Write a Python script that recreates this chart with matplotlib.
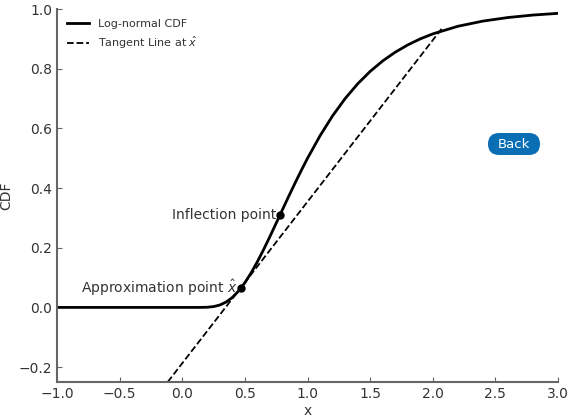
import matplotlib.pyplot as plt
from matplotlib.patches import FancyBboxPatch

plt.rcParams["font.family"] = "DejaVu Sans"

# Log-normal CDF
cdf_x = [-1.0, 0.0, 0.1, 0.15, 0.2, 0.25, 0.3, 0.35, 0.4, 0.45, 0.5, 0.55, 0.6, 0.65,
         0.7, 0.75, 0.8, 0.85, 0.9, 0.95, 1.0, 1.1, 1.2, 1.3, 1.4, 1.5, 1.6, 1.7,
         1.8, 1.9, 2.0, 2.2, 2.4, 2.6, 2.8, 3.0]
cdf_y = [0.0, 0.0, 0.0, 0.0001, 0.0006, 0.0028, 0.008, 0.0179, 0.0334, 0.0551, 0.0829,
         0.1159, 0.1535, 0.1944, 0.2378, 0.2826, 0.3278, 0.3726, 0.4165, 0.4591, 0.5,
         0.5756, 0.6423, 0.7001, 0.7495, 0.7913, 0.8264, 0.8557, 0.8801, 0.9004,
         0.9171, 0.9426, 0.960, 0.972, 0.9803, 0.986]

# Tangent line endpoints
tangent_x = [-0.116, 2.07]
tangent_y = [-0.25, 0.934]

# Marked points
approx_pt = (0.47, 0.0655)
inflect_pt = (0.78, 0.31)

text_col = "#333333"
spine_col = "#666666"

fig = plt.figure(figsize=(5.7, 4.17), dpi=100)
ax = fig.add_axes([0.1, 0.084, 0.879, 0.894])

ax.plot(cdf_x, cdf_y, color="black", lw=2, label="Log-normal CDF")
ax.plot(tangent_x, tangent_y, color="black", lw=1.3, ls="--", label=r"Tangent Line at $\hat{x}$")
ax.plot(*approx_pt, "o", color="black", ms=5)
ax.plot(*inflect_pt, "o", color="black", ms=5)

ax.text(approx_pt[0] - 0.03, approx_pt[1], r"Approximation point $\hat{x}$",
        ha="right", va="center", fontsize=10, color=text_col)
ax.text(inflect_pt[0] - 0.03, inflect_pt[1], "Inflection point",
        ha="right", va="center", fontsize=10, color=text_col)

ax.set_xlim(-1, 3)
ax.set_ylim(-0.25, 1.0)
ax.set_xlabel("x", color=text_col, labelpad=2)
ax.set_ylabel("CDF", color=text_col)

for side in ["top", "right"]:
    ax.spines[side].set_visible(False)
for side in ["left", "bottom"]:
    ax.spines[side].set_color(spine_col)
    ax.spines[side].set_linewidth(1.5)
ax.tick_params(direction="in", colors=spine_col, labelcolor=text_col, labelsize=10)

leg = ax.legend(loc="upper left", frameon=False, fontsize=8)
for t in leg.get_texts():
    t.set_color(text_col)

# "Back" button, placed in inches
btn = FancyBboxPatch((5.14 - 0.26, 2.73 - 0.11), 0.52, 0.22,
                     boxstyle="round,pad=0,rounding_size=0.11",
                     transform=fig.dpi_scale_trans, facecolor="#0a6eb4", edgecolor="none")
fig.patches.append(btn)
fig.text(5.14 / 5.7, 2.73 / 4.17, "Back", ha="center", va="center", color="white",
         fontsize=9.5, zorder=5)

fig.savefig("out.png", dpi=100)
